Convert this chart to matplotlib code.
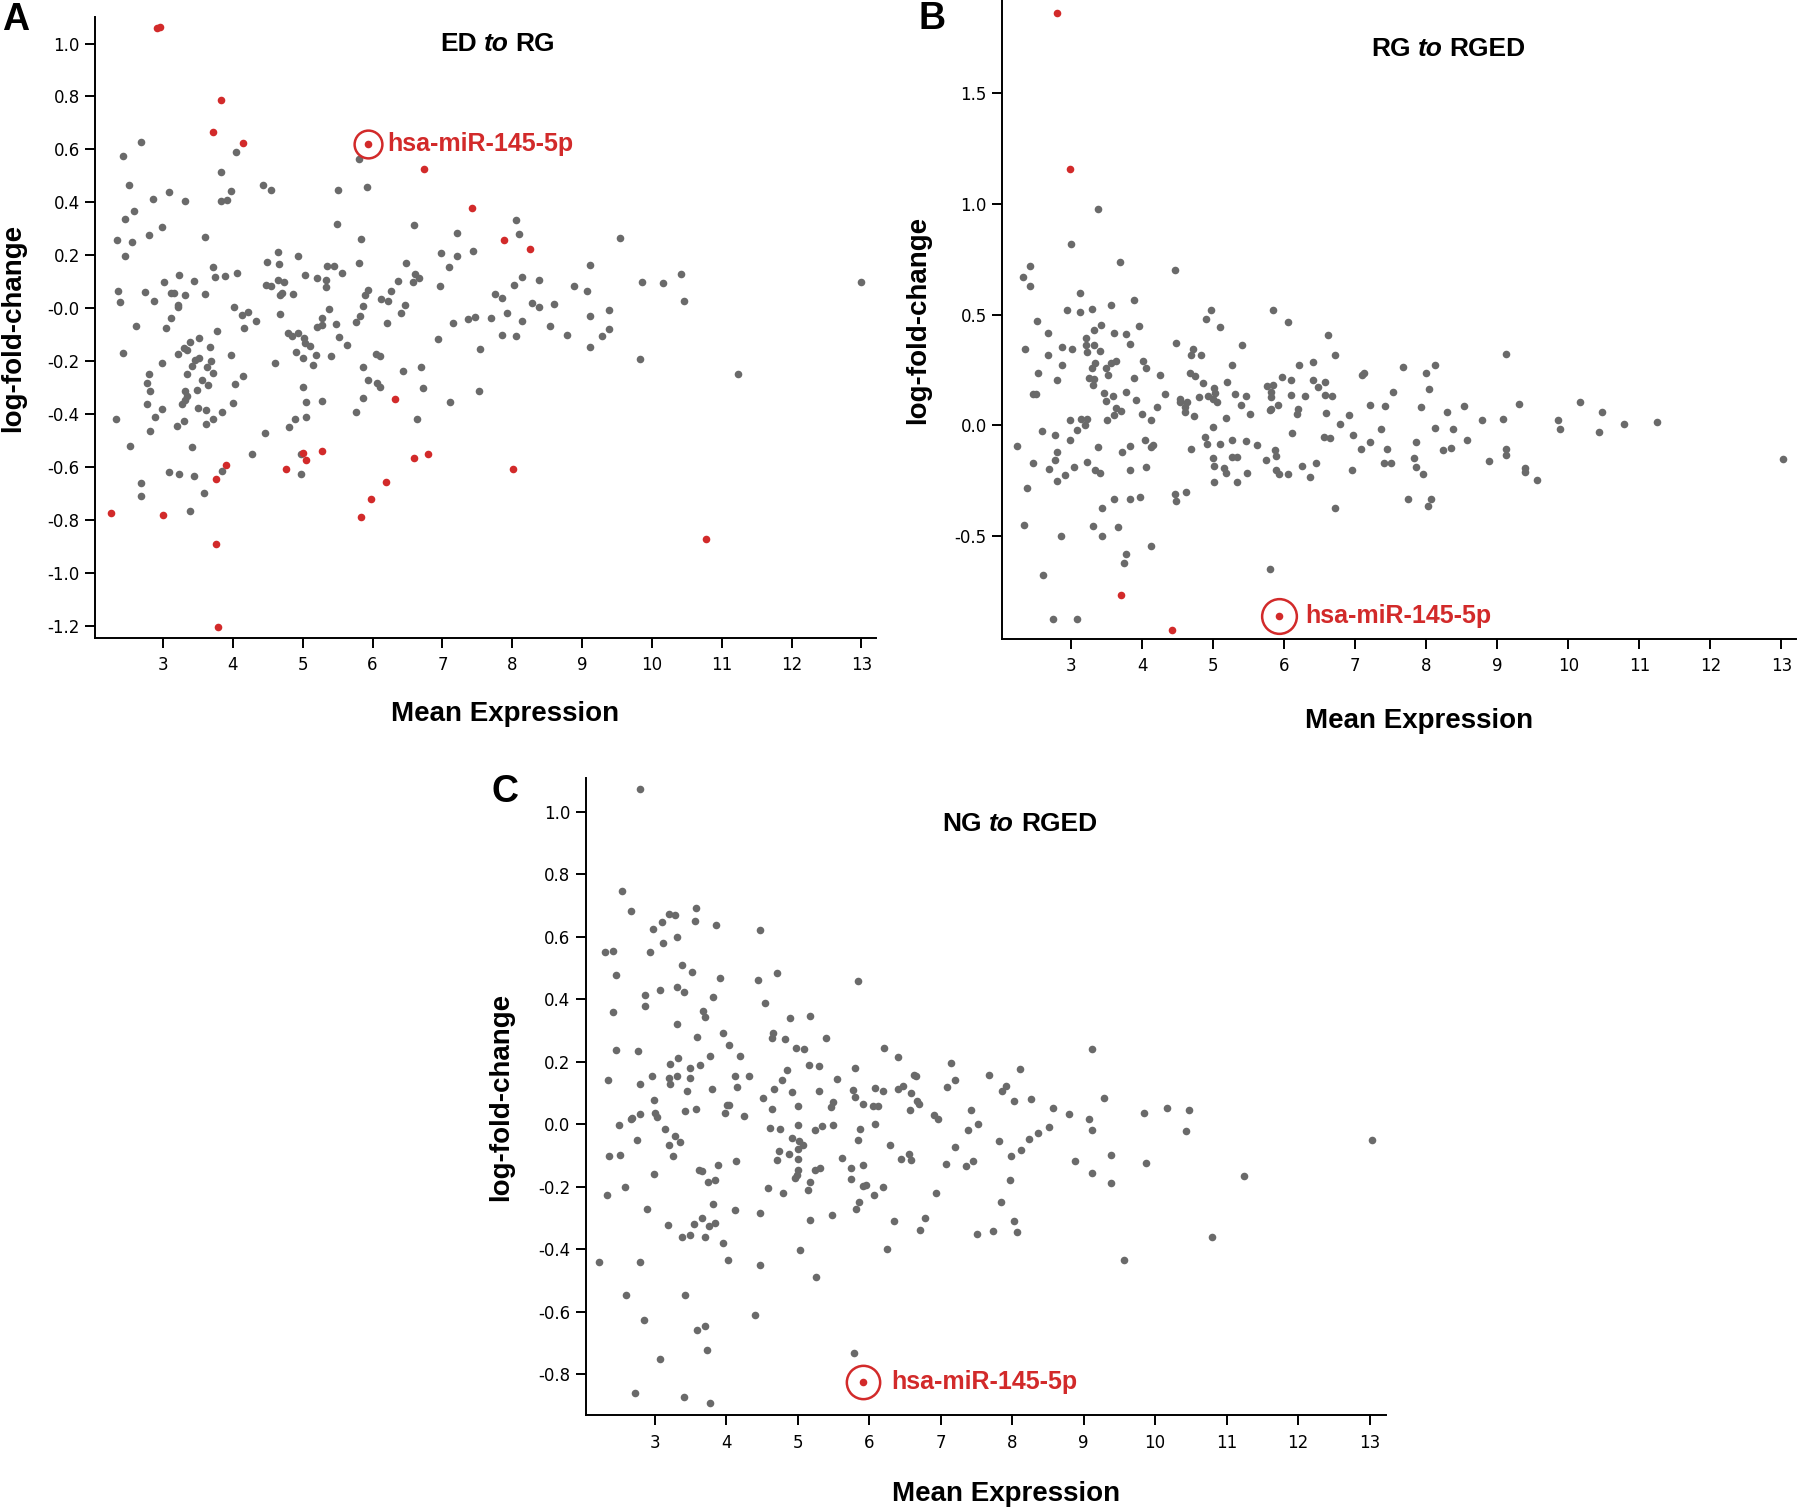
import matplotlib
matplotlib.use("Agg")
import matplotlib.pyplot as plt
import numpy as np

GRAY = "#6a6a6a"
RED = "#d22a2a"

# ---------------- Panel A : ED to RG ----------------
a_gray = [
    (2.68, 0.628), (2.42, 0.573), (4.05, 0.590), (3.83, 0.513), (2.51, 0.465), (3.97, 0.441),
    (4.43, 0.465), (4.55, 0.447), (2.85, 0.413), (3.08, 0.438), (3.32, 0.405), (3.83, 0.405),
    (3.92, 0.407), (2.59, 0.366), (2.46, 0.338), (2.98, 0.306), (2.80, 0.278), (3.60, 0.270),
    (2.34, 0.257), (2.55, 0.251), (2.46, 0.198), (4.64, 0.212), (4.93, 0.198), (4.49, 0.174),
    (4.66, 0.165), (5.35, 0.160), (3.72, 0.155), (3.23, 0.126), (3.75, 0.119), (3.88, 0.122),
    (4.06, 0.133), (5.03, 0.126), (5.20, 0.113), (5.33, 0.105), (5.34, 0.078), (3.02, 0.099),
    (3.44, 0.104), (2.35, 0.066), (2.74, 0.061), (3.12, 0.058), (3.15, 0.058), (3.32, 0.050),
    (3.60, 0.053), (4.48, 0.086), (4.54, 0.082), (4.65, 0.107), (4.73, 0.097), (4.68, 0.050),
    (4.70, 0.057), (4.86, 0.053), (2.38, 0.022), (2.87, 0.027), (3.22, 0.013), (3.21, 0.003),
    (4.02, 0.003), (4.68, -0.022), (5.38, -0.003), (4.13, -0.028), (4.21, -0.013), (4.16, -0.077),
    (4.33, -0.047), (3.12, -0.039), (3.04, -0.074), (2.61, -0.066), (3.77, -0.086), (5.27, -0.039),
    (5.21, -0.072), (5.27, -0.064), (4.79, -0.094), (4.85, -0.104), (4.93, -0.093), (5.02, -0.115),
    (5.03, -0.132), (5.10, -0.144), (4.91, -0.166), (5.01, -0.190), (5.19, -0.176), (5.40, -0.180),
    (3.51, -0.115), (3.38, -0.127), (3.30, -0.152), (3.35, -0.159), (3.21, -0.173), (2.42, -0.171),
    (3.67, -0.149), (3.52, -0.187), (3.46, -0.198), (3.42, -0.218), (3.68, -0.201), (3.63, -0.221),
    (3.72, -0.245), (3.97, -0.179), (2.99, -0.209), (4.61, -0.209), (5.15, -0.217), (3.35, -0.251),
    (2.80, -0.251), (3.56, -0.272), (3.64, -0.289), (4.15, -0.257), (4.03, -0.286), (2.77, -0.283),
    (2.81, -0.312), (3.32, -0.312), (3.34, -0.331), (3.32, -0.347), (3.27, -0.361), (3.49, -0.311),
    (5.00, -0.297), (5.04, -0.355), (5.27, -0.353), (4.00, -0.358), (2.77, -0.361), (2.99, -0.381),
    (3.50, -0.377), (3.61, -0.386), (3.84, -0.394), (2.88, -0.410), (3.71, -0.418), (3.30, -0.425),
    (3.20, -0.447), (3.61, -0.438), (5.05, -0.413), (4.89, -0.418), (4.81, -0.451), (2.32, -0.419),
    (2.81, -0.465), (4.46, -0.472), (2.53, -0.520), (3.41, -0.527), (4.27, -0.551), (4.98, -0.551),
    (3.84, -0.614), (3.09, -0.618), (3.23, -0.626), (3.44, -0.636), (4.98, -0.629), (2.69, -0.661),
    (2.68, -0.710), (3.58, -0.699), (3.38, -0.766),
    (5.81, 0.562), (5.92, 0.458), (5.51, 0.446), (5.49, 0.319), (6.59, 0.314), (5.83, 0.262),
    (7.21, 0.283), (8.05, 0.333), (8.09, 0.281), (7.44, 0.217), (6.98, 0.209), (7.21, 0.198),
    (7.09, 0.154), (5.81, 0.170), (6.48, 0.171), (5.45, 0.159), (5.56, 0.133), (6.61, 0.130),
    (6.67, 0.113), (6.58, 0.100), (6.37, 0.102), (8.14, 0.116), (8.39, 0.108), (5.94, 0.069),
    (5.89, 0.050), (6.27, 0.063), (6.12, 0.036), (6.22, 0.027), (6.96, 0.085), (8.02, 0.088),
    (7.76, 0.055), (7.85, 0.039), (8.29, 0.019), (8.38, 0.003), (8.60, 0.016), (5.87, 0.009),
    (6.47, 0.011), (6.41, -0.017), (5.82, -0.030), (5.76, -0.052), (5.48, -0.060), (6.21, -0.057),
    (7.15, -0.057), (7.37, -0.041), (7.47, -0.035), (7.69, -0.036), (7.92, -0.017), (8.14, -0.049),
    (8.54, -0.066), (5.52, -0.108), (5.63, -0.140), (7.86, -0.102), (8.06, -0.104), (6.93, -0.118),
    (7.54, -0.155), (6.05, -0.173), (6.10, -0.181), (5.86, -0.221), (6.69, -0.223), (5.93, -0.270),
    (6.43, -0.237), (6.06, -0.283), (6.10, -0.300), (6.72, -0.303), (7.53, -0.314), (5.86, -0.339),
    (7.11, -0.355), (5.76, -0.391), (6.64, -0.421),
    (9.55, 0.264), (9.11, 0.162), (8.89, 0.083), (9.07, 0.066), (9.86, 0.097), (10.16, 0.094),
    (10.42, 0.127), (10.46, 0.027), (13.0, 0.10), (9.11, -0.030), (9.39, -0.006), (9.39, -0.078),
    (9.29, -0.105), (8.79, -0.100), (9.11, -0.146), (9.83, -0.193), (11.23, -0.250),
]
a_red = [
    (2.91, 1.060), (2.95, 1.063), (3.83, 0.788), (3.71, 0.666), (4.14, 0.623), (3.90, -0.592),
    (3.76, -0.645), (2.25, -0.776), (3.00, -0.782), (3.76, -0.890), (3.78, -1.206), (4.76, -0.608),
    (5.01, -0.546), (5.05, -0.573), (5.27, -0.540), (6.74, 0.526), (7.42, 0.378), (7.88, 0.256),
    (8.25, 0.223), (6.32, -0.342), (6.60, -0.568), (6.80, -0.553), (8.01, -0.609), (6.19, -0.658),
    (5.98, -0.721), (5.83, -0.790), (10.78, -0.871),
]
a_hit = (5.93, 0.622)

# ---------------- Panel B : RG to RGED ----------------
b_gray = [
    (3.38, 0.978), (3.00, 0.818), (3.69, 0.736), (4.46, 0.699), (2.43, 0.717), (2.32, 0.669),
    (2.42, 0.629), (3.13, 0.597), (2.95, 0.521), (3.12, 0.513), (3.29, 0.524), (3.56, 0.543),
    (3.88, 0.567), (2.52, 0.470), (4.97, 0.521), (4.90, 0.481), (5.10, 0.444), (2.68, 0.418),
    (3.42, 0.453), (3.32, 0.431), (3.61, 0.416), (3.77, 0.412), (3.96, 0.446), (3.21, 0.395),
    (3.21, 0.363), (3.23, 0.330), (3.33, 0.361), (3.41, 0.335), (3.83, 0.367), (2.35, 0.343),
    (2.88, 0.352), (3.02, 0.345), (2.68, 0.316), (4.48, 0.373), (5.41, 0.361), (4.72, 0.343),
    (4.69, 0.316), (4.83, 0.316), (2.87, 0.273), (3.34, 0.283), (3.29, 0.260), (3.57, 0.281),
    (3.64, 0.290), (3.49, 0.258), (4.01, 0.288), (4.06, 0.260), (5.27, 0.273), (2.54, 0.234),
    (2.80, 0.206), (3.26, 0.213), (3.32, 0.208), (3.31, 0.184), (3.52, 0.225), (3.89, 0.212),
    (4.25, 0.227), (4.67, 0.238), (4.75, 0.223), (4.86, 0.191), (5.20, 0.195), (2.47, 0.140),
    (2.51, 0.142), (3.46, 0.148), (3.49, 0.109), (3.59, 0.133), (3.77, 0.150), (3.91, 0.116),
    (4.33, 0.139), (4.53, 0.120), (4.54, 0.105), (4.63, 0.105), (4.61, 0.082), (4.60, 0.062),
    (4.80, 0.127), (5.01, 0.167), (5.03, 0.146), (4.93, 0.133), (5.00, 0.118), (5.05, 0.107),
    (5.31, 0.140), (5.47, 0.133), (5.40, 0.092), (3.64, 0.077), (3.71, 0.066), (3.61, 0.045),
    (4.21, 0.081), (4.00, 0.052), (4.13, 0.026), (4.73, 0.043), (5.18, 0.034), (5.52, 0.052),
    (2.99, 0.024), (3.14, 0.028), (3.22, 0.028), (3.20, 0.000), (3.08, -0.022), (3.50, 0.024),
    (2.59, -0.028), (2.77, -0.043), (2.99, -0.066), (2.24, -0.094), (3.38, -0.097), (3.83, -0.092),
    (3.72, -0.122), (4.04, -0.067), (4.15, -0.088), (4.13, -0.099), (5.00, -0.009), (4.88, -0.052),
    (4.92, -0.084), (5.10, -0.084), (5.26, -0.067), (5.47, -0.071), (4.69, -0.107), (2.80, -0.122),
    (2.78, -0.157), (2.46, -0.172), (2.69, -0.199), (2.81, -0.251), (2.92, -0.225), (3.04, -0.189),
    (3.22, -0.167), (3.34, -0.200), (3.41, -0.217), (3.83, -0.202), (4.05, -0.189), (5.00, -0.146),
    (5.02, -0.185), (5.15, -0.191), (5.18, -0.215), (5.27, -0.144), (5.33, -0.144), (5.01, -0.255),
    (5.34, -0.255), (5.48, -0.217), (2.38, -0.281), (4.47, -0.311), (4.48, -0.341), (4.62, -0.300),
    (3.61, -0.333), (3.83, -0.335), (3.97, -0.322), (3.43, -0.373), (2.34, -0.451), (2.86, -0.500),
    (3.31, -0.455), (3.43, -0.500), (3.66, -0.461), (4.13, -0.543), (3.78, -0.579), (3.75, -0.624),
    (2.61, -0.676), (2.75, -0.875), (3.09, -0.875),
    (5.85, 0.519), (6.06, 0.466), (6.62, 0.406), (6.71, 0.316), (6.21, 0.273), (6.40, 0.287),
    (5.97, 0.219), (6.09, 0.204), (5.76, 0.176), (5.84, 0.180), (5.82, 0.152), (5.82, 0.127),
    (5.80, 0.067), (5.82, 0.075), (5.92, 0.092), (6.09, 0.137), (6.20, 0.075), (6.18, 0.049),
    (6.30, 0.133), (6.40, 0.204), (6.47, 0.172), (6.58, 0.197), (6.58, 0.137), (6.68, 0.133),
    (6.59, 0.054), (7.10, 0.227), (7.13, 0.238), (7.67, 0.262), (7.99, 0.234), (8.12, 0.273),
    (8.04, 0.163), (7.21, 0.090), (7.42, 0.086), (7.53, 0.152), (6.92, 0.047), (6.79, 0.004),
    (7.92, 0.082), (8.29, 0.062), (8.53, 0.088), (8.79, 0.024), (6.11, -0.037), (5.62, -0.088),
    (6.56, -0.052), (6.65, -0.058), (6.97, -0.045), (7.37, -0.019), (8.12, -0.011), (8.37, -0.017),
    (8.58, -0.067), (7.08, -0.109), (7.21, -0.075), (7.45, -0.107), (7.86, -0.075), (8.23, -0.110),
    (8.35, -0.101), (5.75, -0.157), (5.87, -0.110), (5.89, -0.139), (5.88, -0.204), (5.93, -0.219),
    (6.05, -0.219), (6.25, -0.184), (6.36, -0.232), (6.45, -0.170), (6.95, -0.202), (7.40, -0.169),
    (7.51, -0.169), (7.83, -0.146), (7.85, -0.189), (7.96, -0.219), (8.89, -0.161), (6.72, -0.375),
    (7.75, -0.331), (8.07, -0.331), (8.03, -0.365), (5.80, -0.650),
    (9.12, 0.320), (9.30, 0.096), (9.08, 0.028), (10.17, 0.103), (9.85, 0.022), (9.88, -0.017),
    (10.47, 0.058), (10.43, -0.032), (10.79, 0.006), (11.25, 0.015), (9.12, -0.107), (9.12, -0.133),
    (9.39, -0.191), (9.39, -0.213), (9.56, -0.245), (13.02, -0.152),
]
b_red = [(2.80, 1.860), (2.99, 1.155), (3.71, -0.766), (4.42, -0.925)]
b_hit = (5.93, -0.860)

# ---------------- Panel C : NG to RGED ----------------
c_gray = [
    (2.79, 1.073), (2.54, 0.747), (2.67, 0.681), (3.20, 0.674), (3.29, 0.668), (3.58, 0.693),
    (3.56, 0.649), (3.11, 0.646), (2.98, 0.624), (3.86, 0.637), (4.47, 0.620), (3.31, 0.600),
    (3.12, 0.580), (2.31, 0.551), (2.42, 0.555), (2.94, 0.551), (2.46, 0.479), (3.38, 0.509),
    (3.52, 0.486), (3.91, 0.469), (4.45, 0.461), (4.71, 0.485), (3.31, 0.439), (3.41, 0.423),
    (3.07, 0.428), (2.87, 0.415), (2.87, 0.378), (3.82, 0.406), (4.55, 0.389), (3.68, 0.361),
    (3.71, 0.344), (2.42, 0.358), (4.89, 0.341), (5.18, 0.345), (3.31, 0.320), (3.96, 0.293),
    (3.60, 0.279), (4.65, 0.292), (4.64, 0.275), (4.83, 0.274), (4.04, 0.255), (4.98, 0.245),
    (5.09, 0.241), (5.40, 0.275), (2.46, 0.239), (2.77, 0.233), (4.20, 0.219), (3.33, 0.213),
    (3.21, 0.193), (3.49, 0.180), (3.63, 0.189), (3.77, 0.217), (4.85, 0.173), (5.16, 0.190),
    (5.30, 0.186), (2.35, 0.140), (2.80, 0.130), (2.97, 0.153), (3.20, 0.148), (3.31, 0.155),
    (3.22, 0.128), (3.50, 0.149), (4.12, 0.155), (4.32, 0.155), (4.15, 0.119), (3.46, 0.107),
    (3.81, 0.114), (4.67, 0.114), (4.78, 0.140), (4.92, 0.102), (5.30, 0.107), (2.99, 0.078),
    (4.52, 0.085), (4.64, 0.049), (5.01, 0.057), (4.01, 0.063), (4.04, 0.062), (3.99, 0.036),
    (3.01, 0.036), (3.03, 0.022), (2.67, 0.016), (2.68, 0.021), (2.80, 0.033), (3.58, 0.048),
    (3.42, 0.041), (4.25, 0.025), (2.50, -0.001), (4.62, -0.012), (4.75, -0.015), (5.01, -0.003),
    (5.25, -0.019), (5.34, -0.007), (3.14, -0.015), (3.29, -0.037), (3.20, -0.066), (3.36, -0.058),
    (2.76, -0.052), (3.26, -0.102), (2.37, -0.102), (2.51, -0.100), (4.92, -0.045), (5.02, -0.054),
    (5.08, -0.065), (5.01, -0.078), (4.74, -0.087), (4.71, -0.114), (4.88, -0.096), (5.01, -0.112),
    (5.00, -0.147), (4.99, -0.163), (4.97, -0.173), (5.24, -0.147), (5.32, -0.140), (3.89, -0.130),
    (4.14, -0.118), (3.62, -0.147), (3.67, -0.149), (2.99, -0.159), (3.75, -0.186), (3.84, -0.177),
    (2.59, -0.201), (2.33, -0.227), (4.59, -0.204), (4.80, -0.221), (5.17, -0.184), (5.14, -0.209),
    (2.90, -0.270), (3.82, -0.254), (4.12, -0.276), (4.47, -0.283), (3.66, -0.301), (3.55, -0.319),
    (3.76, -0.325), (3.84, -0.316), (3.19, -0.324), (3.39, -0.362), (3.50, -0.356), (3.71, -0.362),
    (5.17, -0.308), (3.96, -0.379), (4.03, -0.434), (2.23, -0.440), (2.80, -0.441), (4.48, -0.452),
    (5.03, -0.404), (5.26, -0.489), (2.60, -0.546), (3.42, -0.545), (4.41, -0.609), (2.85, -0.627),
    (3.60, -0.660), (3.71, -0.646), (3.74, -0.723), (3.08, -0.751), (2.73, -0.861), (3.41, -0.872),
    (3.77, -0.891),
    (5.85, 0.457), (6.21, 0.245), (6.40, 0.214), (5.81, 0.181), (5.55, 0.145), (7.14, 0.196),
    (7.20, 0.143), (7.68, 0.156), (8.11, 0.176), (6.63, 0.159), (6.66, 0.153), (6.47, 0.123),
    (6.41, 0.112), (6.08, 0.115), (6.19, 0.107), (5.78, 0.110), (5.81, 0.087), (6.59, 0.099),
    (7.09, 0.118), (7.91, 0.123), (7.86, 0.106), (5.92, 0.065), (6.06, 0.059), (6.12, 0.059),
    (5.50, 0.070), (5.47, 0.056), (6.67, 0.074), (6.70, 0.065), (8.03, 0.073), (8.27, 0.082),
    (8.57, 0.052), (8.79, 0.033), (6.57, 0.044), (6.91, 0.028), (6.96, 0.016), (7.42, 0.046),
    (5.88, -0.015), (5.49, -0.003), (6.08, 0.001), (7.52, 0.000), (7.39, -0.020), (8.52, -0.009),
    (8.36, -0.028), (8.24, -0.048), (5.85, -0.052), (6.29, -0.066), (7.20, -0.073), (7.82, -0.053),
    (8.12, -0.082), (7.99, -0.103), (5.62, -0.107), (5.75, -0.140), (5.91, -0.131), (6.44, -0.112),
    (6.56, -0.096), (6.58, -0.115), (7.07, -0.127), (7.35, -0.134), (7.46, -0.119), (8.88, -0.119),
    (5.75, -0.176), (7.97, -0.177), (5.91, -0.197), (5.96, -0.193), (6.07, -0.225), (6.20, -0.200),
    (6.94, -0.219), (7.84, -0.250), (5.86, -0.249), (5.82, -0.271), (5.48, -0.291), (6.35, -0.309),
    (6.78, -0.300), (6.71, -0.340), (7.51, -0.352), (7.74, -0.342), (8.03, -0.311), (8.07, -0.345),
    (6.25, -0.398), (5.79, -0.731),
    (9.12, 0.241), (9.29, 0.083), (9.85, 0.036), (10.17, 0.053), (10.47, 0.045), (9.08, 0.016),
    (9.12, -0.020), (10.43, -0.021), (13.03, -0.049), (9.39, -0.098), (9.87, -0.123), (9.12, -0.157),
    (9.39, -0.189), (11.24, -0.167), (10.79, -0.360), (9.56, -0.436),
]
c_red = []
c_hit = (5.91, -0.826)

x_ticks = list(range(3, 14))
a_yticks = [1.0, 0.8, 0.6, 0.4, 0.2, 0.0, -0.2, -0.4, -0.6, -0.8, -1.0, -1.2]
a_ylabels = ["1.0", "0.8", "0.6", "0.4", "0.2", "-0.0", "-0.2", "-0.4", "-0.6", "-0.8", "-1.0", "-1.2"]
b_yticks = [1.5, 1.0, 0.5, 0.0, -0.5]
b_ylabels = ["1.5", "1.0", "0.5", "0.0", "-0.5"]
c_yticks = [1.0, 0.8, 0.6, 0.4, 0.2, 0.0, -0.2, -0.4, -0.6, -0.8]
c_ylabels = ["1.0", "0.8", "0.6", "0.4", "0.2", "0.0", "-0.2", "-0.4", "-0.6", "-0.8"]

BOLD = "Liberation Sans"

fig = plt.figure(figsize=(18, 15.1), dpi=100)


def panel(rect, gray, red, hit, xlim, ylim, yticks, ylabels, title, title_x, title_y,
          xlab_y, ylab_x, hit_ms, label_dx):
    ax = fig.add_axes(rect)
    g = np.array(gray)
    ax.scatter(g[:, 0], g[:, 1], s=30, color=GRAY, linewidths=0, zorder=2)
    if red:
        r = np.array(red)
        ax.scatter(r[:, 0], r[:, 1], s=30, color=RED, linewidths=0, zorder=3)
    ax.scatter([hit[0]], [hit[1]], s=30, color=RED, linewidths=0, zorder=3)
    ax.plot([hit[0]], [hit[1]], marker="o", ms=hit_ms, mfc="none", mec=RED, mew=1.8, zorder=4)
    ax.text(hit[0] + label_dx, hit[1], "hsa-miR-145-5p", color=RED, fontsize=18,
            fontweight="bold", family=BOLD, va="center", ha="left")

    ax.set_xlim(*xlim)
    ax.set_ylim(*ylim)
    ax.set_xticks(x_ticks)
    ax.set_xticklabels([str(t) for t in x_ticks])
    ax.set_yticks(yticks)
    ax.set_yticklabels(ylabels)
    for s in ["top", "right"]:
        ax.spines[s].set_visible(False)
    for s in ["left", "bottom"]:
        ax.spines[s].set_linewidth(1.4)
    ax.tick_params(direction="out", length=7, width=1.4, labelsize=12, pad=4)
    ax.tick_params(axis="x", pad=6)

    ax.set_xlabel("Mean Expression", fontsize=20, fontweight="bold", family=BOLD)
    ax.xaxis.set_label_coords(0.525, xlab_y)
    ax.set_ylabel("log-fold-change", fontsize=20, fontweight="bold", family=BOLD)
    ax.yaxis.set_label_coords(ylab_x, 0.5)

    # title: first word, italic "to", second word
    w1, w2 = title
    t1 = ax.text(title_x, title_y, w1, transform=ax.transAxes, fontsize=19,
                 fontweight="bold", family=BOLD, ha="left", va="center")
    t2 = ax.annotate("to", xy=(1, 0), xycoords=t1, xytext=(5, 0), textcoords="offset points",
                     fontsize=19, fontweight="bold", style="italic", family=BOLD,
                     ha="left", va="bottom")
    ax.annotate(w2, xy=(1, 0), xycoords=t2, xytext=(5, 0), textcoords="offset points",
                fontsize=19, fontweight="bold", family=BOLD, ha="left", va="bottom")
    return ax


panel([0.0528, 0.5775, 0.4339, 0.4112], a_gray, a_red, a_hit, (2.026, 13.21), (-1.247, 1.10),
      a_yticks, a_ylabels, ("ED", "RG"), 0.442, 0.957, -0.101, -0.088, 20, 0.28)
panel([0.5567, 0.5768, 0.4413, 0.4232], b_gray, b_red, b_hit, (2.03, 13.21), (-0.965, 1.92),
      b_yticks, b_ylabels, ("RG", "RGED"), 0.465, 0.923, -0.108, -0.089, 25, 0.37)
panel([0.3253, 0.0626, 0.4447, 0.4222], c_gray, c_red, c_hit, (2.035, 13.23), (-0.932, 1.108),
      c_yticks, c_ylabels, ("NG", "RGED"), 0.446, 0.928, -0.103, -0.089, 24, 0.40)

for lab, x, y in [("A", 16 / 1800, 1 - 20 / 1510), ("B", 932 / 1800, 1 - 19 / 1510),
                  ("C", 505 / 1800, 1 - 792 / 1510)]:
    fig.text(x, y, lab, fontsize=27, fontweight="bold", family=BOLD, ha="center", va="center")

fig.savefig("out.png", dpi=100)
